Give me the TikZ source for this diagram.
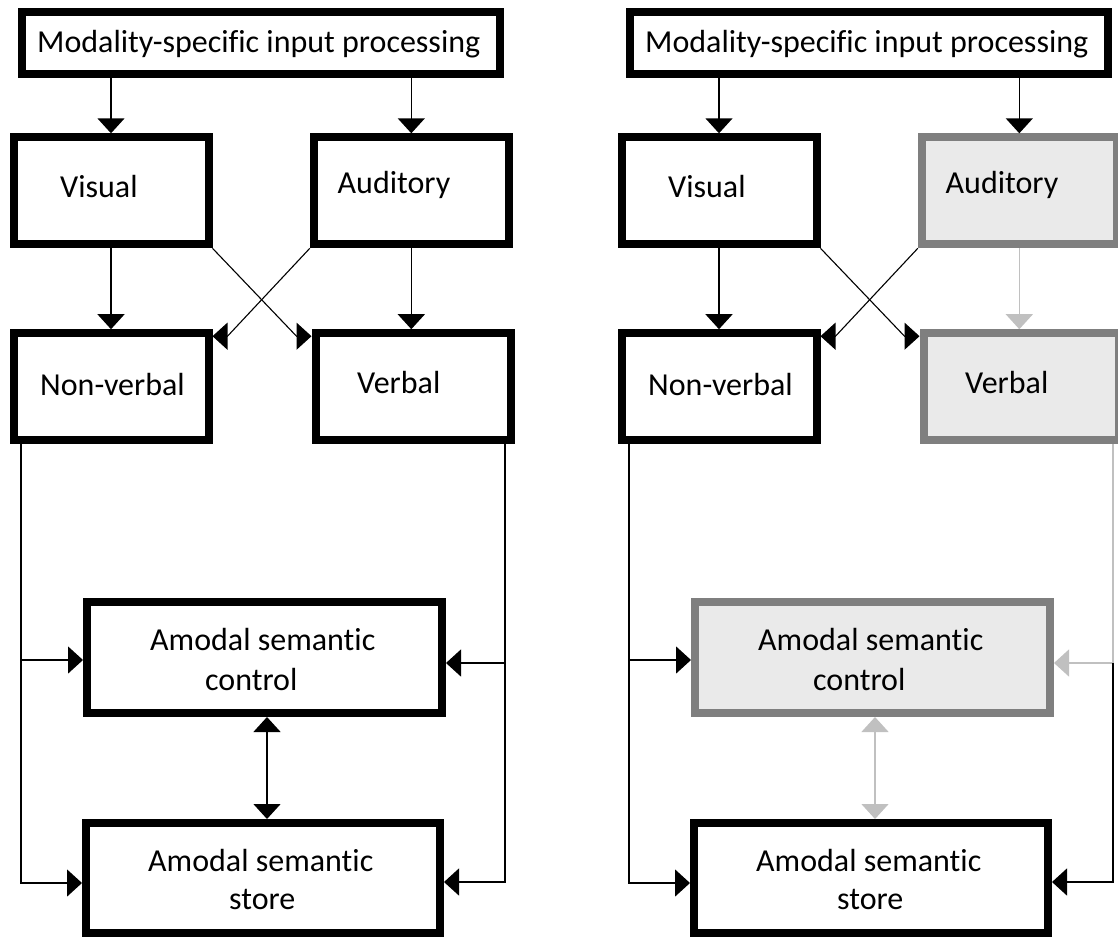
\documentclass[tikz,border=0pt]{standalone}
\usepackage{fontspec}
\setmainfont{Carlito}[Ligatures={NoCommon}]
\usetikzlibrary{arrows.meta,calc}
\definecolor{boxgrey}{RGB}{127,127,127}
\definecolor{fillgrey}{RGB}{234,234,234}
\definecolor{litegrey}{RGB}{192,192,192}
\begin{document}
\begin{tikzpicture}[x=1pt,y=-1pt,
  box/.style={draw=black,line width=8pt,fill=white,rectangle,inner sep=0pt,minimum width=195pt,minimum height=107pt},
  gbox/.style={box,draw=boxgrey,fill=fillgrey},
  lbl/.style={inner sep=0pt,anchor=base west,font=\fontsize{32}{39}\selectfont},
  conn/.style={draw=black,line width=1.4pt,-{Triangle[length=15pt,width=27pt]}},
  dconn/.style={conn,{Triangle[length=15pt,width=27pt]}-{Triangle[length=15pt,width=27pt]}},
  xconn/.style={conn,line width=1.1pt},
  lite/.style={draw=litegrey}]
\useasboundingbox (0,0) rectangle (1118,937);

% ---------------- left panel ----------------
\node[box,minimum width=478pt,minimum height=62pt] (Ltop) at (261,43) {};
\node[box] (Lvis) at (111,190.8) {};
\node[box] (Laud) at (411.3,190.8) {};
\node[box] (Lnonv) at (111,386.7) {};
\node[box] (Lverb) at (413,386.7) {};
\node[box,minimum width=355pt,minimum height=111pt] (Lctl) at (264.5,657.5) {};
\node[box,minimum width=354pt,minimum height=110pt] (Lsto) at (263,878) {};

\node[lbl] (LtopT) at (37,52) {Modality-specific input processing};
\node[lbl] (LvisT) at (60,197) {Visual};
\node[lbl] (LaudT) at (337.5,193) {Auditory};
\node[lbl] (LnonvT) at (40,395) {Non-verbal};
\node[lbl] (LverbT) at (357,393) {Verbal};
\node[lbl] (LctlA) at (150,650) {Amodal semantic};
\node[lbl] (LctlB) at (205,690) {control};
\node[lbl] (LstoA) at (148,871) {Amodal semantic};
\node[lbl] (LstoB) at (229,909) {store};

\coordinate (LxL) at (21,0);
\coordinate (LxR) at (505,0);
\coordinate (LcW) at ([yshift=-2.5pt]Lctl.west);
\coordinate (LcE) at ([yshift=-5.5pt]Lctl.east);
\coordinate (LsW) at ([yshift=-5pt]Lsto.west);
\coordinate (LsE) at ([yshift=-4pt]Lsto.east);

\draw[conn] (Ltop.south -| Lvis.north) -- (Lvis.north);
\draw[conn] (Ltop.south -| Laud.north) -- (Laud.north);
\draw[conn] (Lvis.south) -- (Lnonv.north);
\draw[conn] (Laud.south) -- (Laud.south |- Lverb.north);
\draw[xconn] (Lvis.south east) -- ($(Lverb.north west)+(-15,7)$) -- ($(Lverb.north west)+(0,7)$);
\draw[xconn] (Laud.south west) -- ($(Lnonv.north east)+(15,7)$) -- ($(Lnonv.north east)+(0,7)$);
\draw[conn] (Lnonv.south -| LxL) -- (LxL |- LsW) -- (LsW);
\draw[conn] (LxL |- LcW) -- (LcW);
\draw[conn] (Lverb.south -| LxR) -- (LxR |- LsE) -- (LsE);
\draw[conn] (LxR |- LcE) -- (LcE);
\draw[dconn] ([xshift=2.5pt]Lctl.south) -- ([xshift=2.5pt]Lctl.south |- Lsto.north);

% ---------------- right panel ----------------
\node[box,minimum width=478pt,minimum height=62pt] (Rtop) at (869,43) {};
\node[box] (Rvis) at (719,190.8) {};
\node[gbox] (Raud) at (1019.3,190.8) {};
\node[box] (Rnonv) at (719,386.7) {};
\node[gbox] (Rverb) at (1021,386.7) {};
\node[gbox,minimum width=355pt,minimum height=111pt] (Rctl) at (872.5,657.5) {};
\node[box,minimum width=354pt,minimum height=110pt] (Rsto) at (871,878) {};

\node[lbl] (RtopT) at (645,52) {Modality-specific input processing};
\node[lbl] (RvisT) at (668,197) {Visual};
\node[lbl] (RaudT) at (945.5,193) {Auditory};
\node[lbl] (RnonvT) at (648,395) {Non-verbal};
\node[lbl] (RverbT) at (965,393) {Verbal};
\node[lbl] (RctlA) at (758,650) {Amodal semantic};
\node[lbl] (RctlB) at (813,690) {control};
\node[lbl] (RstoA) at (756,871) {Amodal semantic};
\node[lbl] (RstoB) at (837,909) {store};

\coordinate (RxL) at (629,0);
\coordinate (RxR) at (1113,0);
\coordinate (RcW) at ([yshift=-2.5pt]Rctl.west);
\coordinate (RcE) at ([yshift=-5.5pt]Rctl.east);
\coordinate (RsW) at ([yshift=-5pt]Rsto.west);
\coordinate (RsE) at ([yshift=-4pt]Rsto.east);

\draw[conn] (Rtop.south -| Rvis.north) -- (Rvis.north);
\draw[conn] (Rtop.south -| Raud.north) -- (Raud.north);
\draw[conn] (Rvis.south) -- (Rnonv.north);
\draw[conn,lite] (Raud.south) -- (Raud.south |- Rverb.north);
\draw[xconn] (Rvis.south east) -- ($(Rverb.north west)+(-15,7)$) -- ($(Rverb.north west)+(0,7)$);
\draw[xconn] (Raud.south west) -- ($(Rnonv.north east)+(15,7)$) -- ($(Rnonv.north east)+(0,7)$);
\draw[conn] (Rnonv.south -| RxL) -- (RxL |- RsW) -- (RsW);
\draw[conn] (RxL |- RcW) -- (RcW);
\draw[conn,lite] (Rverb.south -| RxR) -- (RxR |- RcE) -- (RcE);
\draw[conn] (RxR |- RcE) -- (RxR |- RsE) -- (RsE);
\draw[dconn,lite] ([xshift=2.5pt]Rctl.south) -- ([xshift=2.5pt]Rctl.south |- Rsto.north);
\end{tikzpicture}
\end{document}
